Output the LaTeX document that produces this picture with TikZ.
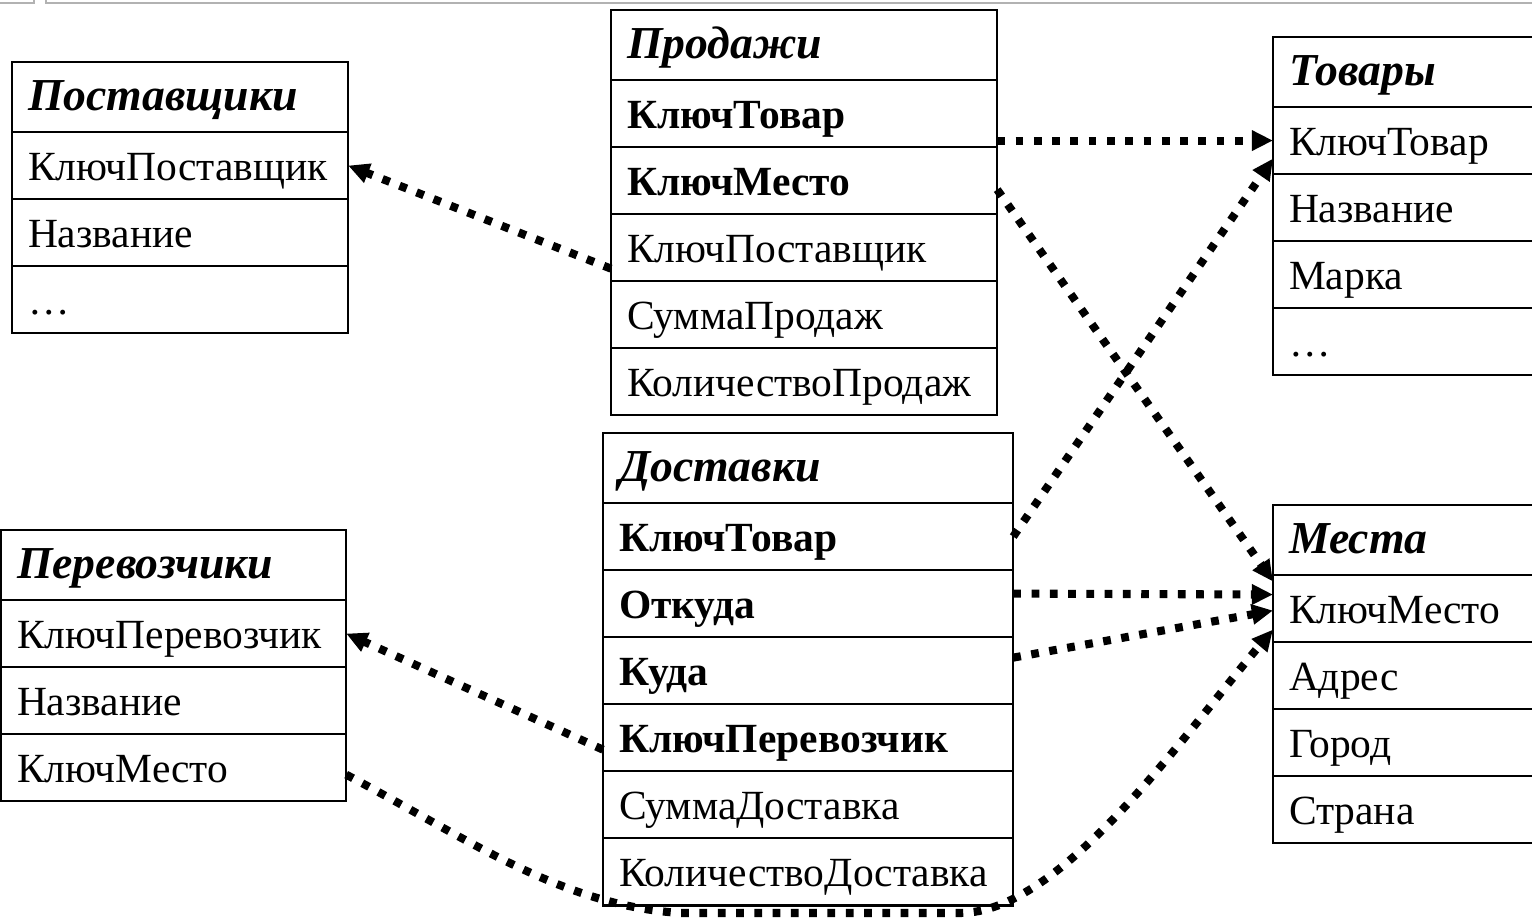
\documentclass[tikz,border=0pt]{standalone}
\usepackage{fontspec}
\setmainfont{Liberation Serif}
\usetikzlibrary{shapes,arrows.meta,positioning,calc}

\begin{document}
\begin{tikzpicture}[x=0.01cm, y=-0.01cm,
    cell/.style={rectangle, draw, line width=0.7pt, outer sep=0pt, inner xsep=0.16cm, inner ysep=0pt, minimum height=0.67cm, text height=0.95em, text depth=0.1em, align=left, font=\fontsize{11.8}{14}\selectfont},
    tblhead/.style={cell, minimum height=0.70cm, anchor=north west, text height=0.85em, font=\fontsize{13}{15}\selectfont\bfseries\itshape},
    keycell/.style={cell, font=\fontsize{11.8}{14}\selectfont\bfseries},
    fkline/.style={line width=2.3pt, dash pattern=on 2.2pt off 3pt, -{Triangle[length=6pt,width=5.5pt]}}]
    \useasboundingbox (0,0) rectangle (1532,918);
    \clip (0,0) rectangle (1532,918);

    % window edge
    \draw[gray!60, line width=0.8pt] (0,3) -- (34,3) -- (34,0);
    \draw[gray!60, line width=0.8pt] (46,0) -- (46,3) -- (1532,3);

    % Поставщики
    \begin{scope}[nodes={text width=3.04cm}]
    \node (sup) [tblhead] at (12,62) {Поставщики};
    \node (supkey) [cell, below=0pt of sup] {КлючПоставщик};
    \node (supname) [cell, below=0pt of supkey] {Название};
    \node (supmore) [cell, below=0pt of supname] {…};
    \end{scope}

    % Продажи
    \begin{scope}[nodes={text width=3.54cm}]
    \node (sale) [tblhead] at (611,10) {Продажи};
    \node (salegood) [keycell, below=0pt of sale] {КлючТовар};
    \node (saleplace) [keycell, below=0pt of salegood] {КлючМесто};
    \node (salesup) [cell, below=0pt of saleplace] {КлючПоставщик};
    \node (salesum) [cell, below=0pt of salesup] {СуммаПродаж};
    \node (salecnt) [cell, below=0pt of salesum] {КоличествоПродаж};
    \end{scope}

    % Товары
    \begin{scope}[nodes={text width=2.88cm}]
    \node (good) [tblhead] at (1273,37) {Товары};
    \node (goodkey) [cell, below=0pt of good] {КлючТовар};
    \node (goodname) [cell, below=0pt of goodkey] {Название};
    \node (goodbrand) [cell, below=0pt of goodname] {Марка};
    \node (goodmore) [cell, below=0pt of goodbrand] {…};
    \end{scope}

    % Доставки
    \begin{scope}[nodes={text width=3.78cm}]
    \node (dlv) [tblhead] at (603,433) {Доставки};
    \node (dlvgood) [keycell, below=0pt of dlv] {КлючТовар};
    \node (dlvfrom) [keycell, below=0pt of dlvgood] {Откуда};
    \node (dlvto) [keycell, below=0pt of dlvfrom] {Куда};
    \node (dlvcarr) [keycell, below=0pt of dlvto] {КлючПеревозчик};
    \node (dlvsum) [cell, below=0pt of dlvcarr] {СуммаДоставка};
    \node (dlvcnt) [cell, below=0pt of dlvsum] {КоличествоДоставка};
    \end{scope}

    % Перевозчики
    \begin{scope}[nodes={text width=3.13cm}]
    \node (carr) [tblhead] at (1,530) {Перевозчики};
    \node (carrkey) [cell, below=0pt of carr] {КлючПеревозчик};
    \node (carrname) [cell, below=0pt of carrkey] {Название};
    \node (carrplace) [cell, below=0pt of carrname] {КлючМесто};
    \end{scope}

    % Места
    \begin{scope}[nodes={text width=2.88cm}]
    \node (place) [tblhead] at (1273,505) {Места};
    \node (placekey) [cell, below=0pt of place] {КлючМесто};
    \node (placeaddr) [cell, below=0pt of placekey] {Адрес};
    \node (placecity) [cell, below=0pt of placeaddr] {Город};
    \node (placecountry) [cell, below=0pt of placecity] {Страна};
    \end{scope}

    % связи
    \coordinate (botl) at (680,913);
    \coordinate (botr) at (960,913);
    \draw[fkline] ([yshift=-0.21cm]salesup.west) -- (supkey.east);
    \draw[fkline] (goodkey.west -| salegood.east) -- (goodkey.west);
    \draw[fkline] ([yshift=-0.09cm]saleplace.east) -- ([yshift=0.27cm]placekey.west);
    \draw[fkline] (dlvgood.east) -- ([yshift=-0.18cm]goodkey.west);
    \draw[fkline] ([yshift=0.1cm]dlvfrom.east) -- ([yshift=0.14cm]placekey.west);
    \draw[fkline] ([yshift=0.13cm]dlvto.east) -- ([yshift=-0.02cm]placekey.west);
    \draw[fkline] ([yshift=-0.12cm]dlvcarr.west) -- (carrkey.east);
    \draw[fkline] ([yshift=-0.07cm]carrplace.east) .. controls (470,840) and (560,905) .. (botl) -- (botr)
        .. controls (1060,913) and (1180,740) .. ([yshift=-0.21cm]placekey.west);
\end{tikzpicture}
\end{document}
